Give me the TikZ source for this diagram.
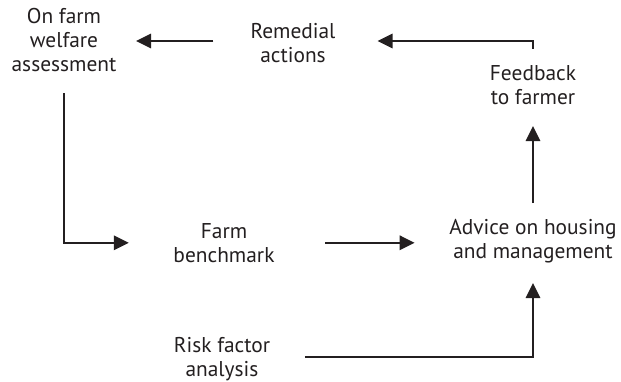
\documentclass[tikz,border=0pt]{standalone}
\usepackage{fontspec}
\setmainfont{PT Sans}
\usetikzlibrary{arrows.meta,calc}
\definecolor{ink}{HTML}{231F20}
\tikzset{
  label/.style={align=center, text=ink, inner sep=0pt,
    font=\fontsize{21.4}{24}\selectfont},
  arr/.style={draw=ink, line width=1.8pt,
    -{Triangle[length=15pt,width=14.5pt]}},
}
\begin{document}
\begin{tikzpicture}[x=1pt,y=-1pt]
  \useasboundingbox (0,0) rectangle (621,382);

  % stages of the cycle
  \node[label] (assess)   at (64,40.5)   {On farm\\welfare\\assessment};
  \node[label] (remedial) at (293,42.8)  {Remedial\\actions};
  \node[label] (feedback) at (533,85.3)  {Feedback\\to farmer};
  \node[label] (advice)   at (533,240.7) {Advice on housing\\and management};
  \node[label] (bench)    at (224,242.8) {Farm\\benchmark};
  \node[label] (risk)     at (222,358.7) {Risk factor\\analysis};

  % connectors
  \draw[arr] ($(remedial.west)+(-37,-1.8)$)
          -- ($(assess.east |- remedial.west)+(19.5,-1.8)$);
  \draw[arr] ($(feedback.north)+(0,-16.6)$)
          |- ($(remedial.east)+(42,-1.8)$);
  \draw[arr] ($(advice.north -| feedback.south)+(0,-15.6)$)
          -- ($(feedback.south)+(0,21)$);
  \draw[arr] ($(bench.east)+(50.5,0)$)
          -- ($(bench.east -| advice.west)+(-34.5,0)$);
  \draw[arr] ($(assess.south)+(0,21)$)
          |- ($(bench.west)+(-44.5,0)$);
  \draw[arr] ($(risk.east)+(34.5,-1.7)$)
          -| ($(advice.south)+(0,20.3)$);
\end{tikzpicture}
\end{document}
